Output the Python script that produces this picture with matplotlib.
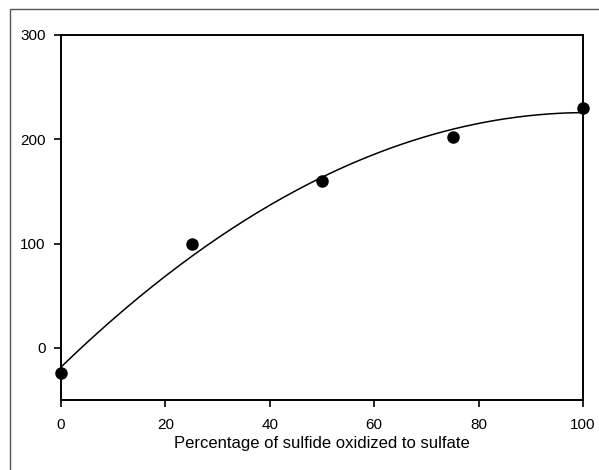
import matplotlib.pyplot as plt
import numpy as np
from matplotlib.patches import Rectangle

# Data
pct_oxidized = [0, 25, 50, 75, 100]
response = [-24, 100, 160, 202, 230]

plt.rcParams['font.family'] = ['Liberation Sans', 'DejaVu Sans']

fig = plt.figure(figsize=(5.99, 4.70), dpi=100)
ax = fig.add_axes([61 / 599, 1 - 400 / 470, (583 - 61) / 599, (400 - 35) / 470])

# outer frame around the figure (cut at right and bottom)
fig.patches.append(Rectangle((10 / 599, -0.05), 1.2, 1 - 9 / 470 + 0.05,
                             transform=fig.transFigure, fill=False,
                             edgecolor='#555555', linewidth=1.0))

# quadratic fit
coef = np.polyfit(pct_oxidized, response, 2)
xx = np.linspace(0, 100, 200)
ax.plot(xx, np.polyval(coef, xx), color='black', linewidth=1.1)

ax.plot(pct_oxidized, response, 'o', color='black', markersize=8, clip_on=False, zorder=5)

ax.set_xlim(0, 100)
ax.set_ylim(-50, 300)
ax.set_xticks([0, 20, 40, 60, 80, 100])
ax.set_yticks([0, 100, 200, 300])
ax.tick_params(direction='out', length=5, width=1.2, labelsize=11, color='black', pad=6)
ax.tick_params(axis='x', pad=8)
for s in ax.spines.values():
    s.set_linewidth(1.4)
ax.set_xlabel('Percentage of sulfide oxidized to sulfate', fontsize=12, labelpad=3)

fig.savefig('out.png', dpi=100)
